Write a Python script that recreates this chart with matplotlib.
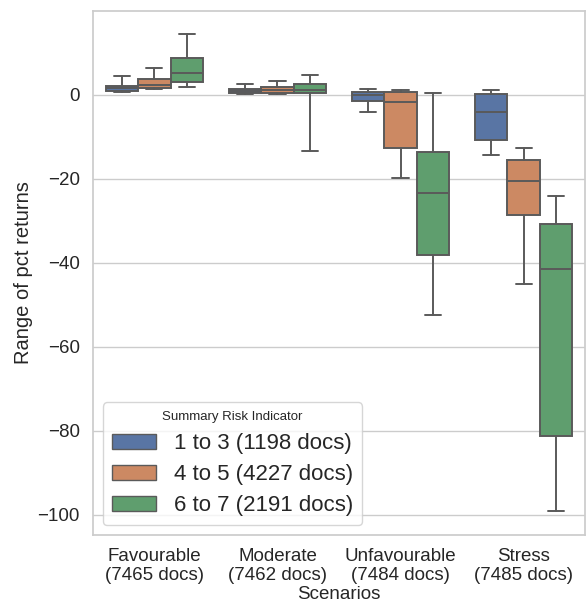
import matplotlib
matplotlib.use('agg')
import matplotlib.pyplot as plt
import seaborn as sns
import numpy as np
from matplotlib.patches import Patch

sns.set_theme(style="whitegrid")
plt.rcParams['font.family'] = ['Liberation Sans', 'DejaVu Sans']

scenarios = ["Favourable\n(7465 docs)", "Moderate\n(7462 docs)",
             "Unfavourable\n(7484 docs)", "Stress\n(7485 docs)"]
sri_labels = ["1 to 3 (1198 docs)", "4 to 5 (4227 docs)", "6 to 7 (2191 docs)"]

# box stats per risk group, one value per scenario
whislo = [[0.6, 0.2, -4.0, -14.2],
          [1.3, 0.3, -19.8, -44.9],
          [2.0, -13.3, -52.4, -99.0]]
q1 = [[1.0, 0.4, -1.4, -10.8],
      [1.7, 0.5, -12.6, -28.5],
      [3.1, 0.4, -38.1, -81.3]]
med = [[1.7, 1.0, 0.0, -4.0],
       [2.4, 1.2, -1.8, -20.5],
       [5.3, 1.2, -23.4, -41.5]]
q3 = [[2.2, 1.5, 0.6, 0.3],
      [3.7, 1.8, 0.6, -15.5],
      [8.7, 2.5, -13.5, -30.8]]
whishi = [[4.5, 2.5, 1.4, 1.1],
          [6.3, 3.4, 1.1, -12.6],
          [14.4, 4.8, 0.4, -24.0]]

palette = sns.color_palette("deep", 3, desat=0.75)
line_col = "#5a5a5a"

fig = plt.figure(figsize=(5.88, 6.06), dpi=100)
ax = fig.add_axes([0.158, 0.117, 0.837, 0.865])

width = 0.8 / 3
for h in range(3):
    stats = []
    for i in range(len(scenarios)):
        stats.append(dict(whislo=whislo[h][i], q1=q1[h][i], med=med[h][i],
                          q3=q3[h][i], whishi=whishi[h][i], fliers=[]))
    pos = np.arange(len(scenarios)) + (h - 1) * width
    ax.bxp(stats, positions=pos, widths=width * 0.98, patch_artist=True,
           showfliers=False, manage_ticks=False,
           boxprops=dict(facecolor=palette[h], edgecolor=line_col, linewidth=1.4),
           medianprops=dict(color=line_col, linewidth=1.4),
           whiskerprops=dict(color=line_col, linewidth=1.4),
           capprops=dict(color=line_col, linewidth=1.4))

ax.set_xlim(-0.5, 3.5)
ax.set_ylim(-104.8, 20)
ax.grid(False, axis='x')
ax.set_xticks(np.arange(len(scenarios)))
ax.set_xticklabels(scenarios, fontsize=13.5, linespacing=1.1)
ax.set_yticks([0, -20, -40, -60, -80, -100])
ax.tick_params(axis='y', labelsize=13.5)
ax.set_xlabel("Scenarios", fontsize=13.5, labelpad=2)
ax.set_ylabel("Range of pct returns", fontsize=14.5, labelpad=3)
for s in ax.spines.values():
    s.set_color("#cccccc")

handles = [Patch(facecolor=palette[h], edgecolor=line_col, linewidth=1.0)
           for h in range(3)]
leg = ax.legend(handles, sri_labels, title="Summary Risk Indicator",
                loc="lower left", fontsize=16, title_fontsize=9.5,
                frameon=True, borderaxespad=0.45, labelspacing=0.45)

fig.savefig("out.png", dpi=100)
